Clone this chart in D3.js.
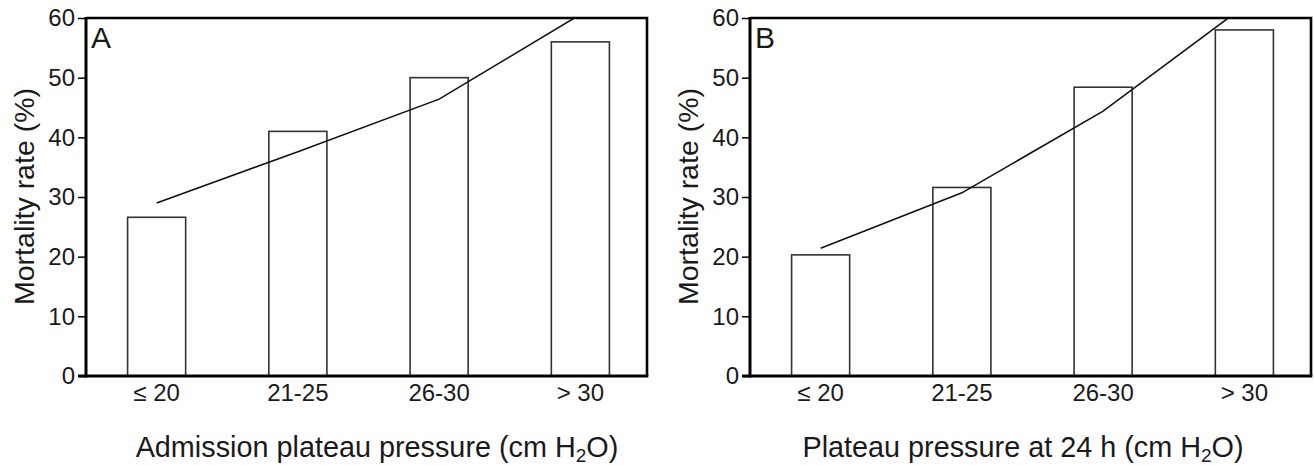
<!DOCTYPE html>
<html>
<head>
<meta charset="utf-8">
<script src="https://cdn.jsdelivr.net/npm/d3@7"></script>
<style>
  body { margin: 0; background: #fff; }
  svg { display: block; }
  text { font-family: "Liberation Sans", Arial, Helvetica, sans-serif; fill: #1a1a1a; }
</style>
</head>
<body>
<svg id="chart" width="1314" height="465"></svg>
<script>
// data
const categories = ["≤ 20", "21-25", "26-30", "> 30"];
const barsA = [26.6, 41.0, 50.0, 56.0];
const lineA = [29.0, 37.6, 46.4, 60.6];
const barsB = [20.3, 31.6, 48.4, 58.0];
const lineB = [21.4, 30.7, 44.4, 62.0];
const yTicks = [0, 10, 20, 30, 40, 50, 60];

const panels = [
  { letter: "A", left: 86, bars: barsA, line: lineA, title: "Admission plateau pressure (cm H", titleX: 377 },
  { letter: "B", left: 750, bars: barsB, line: lineB, title: "Plateau pressure at 24 h (cm H", titleX: 1023 }
];

const svg = d3.select("#chart");
const plotTop = 18, plotBottom = 376, plotW = 561;

const y = d3.scaleLinear().domain([0, 60]).range([plotBottom, plotTop]);

panels.forEach(function (p, pi) {
  const g = svg.append("g");

  const x = d3.scaleBand()
    .domain(categories)
    .range([p.left, p.left + 565])
    .paddingInner(0.589)
    .paddingOuter(0.2945);

  // clip for the trend line
  svg.append("clipPath").attr("id", "clip" + pi)
    .append("rect")
    .attr("x", p.left).attr("y", plotTop)
    .attr("width", plotW).attr("height", plotBottom - plotTop);

  // bars
  g.selectAll(".bar")
    .data(p.bars)
    .enter().append("rect")
    .attr("class", "bar")
    .attr("x", (d, i) => x(categories[i]))
    .attr("y", d => y(d))
    .attr("width", x.bandwidth())
    .attr("height", d => plotBottom - y(d))
    .attr("fill", "none")
    .attr("stroke", "#333")
    .attr("stroke-width", 1.6);

  // line
  const lineGen = d3.line()
    .x((d, i) => x(categories[i]) + x.bandwidth() / 2)
    .y(d => y(d));

  g.append("path")
    .datum(p.line)
    .attr("d", lineGen)
    .attr("clip-path", "url(#clip" + pi + ")")
    .attr("fill", "none")
    .attr("stroke", "#111")
    .attr("stroke-width", 1.6);

  // top and right frame
  g.append("path")
    .attr("d", "M" + p.left + "," + plotTop + "H" + (p.left + plotW) + "V" + plotBottom)
    .attr("fill", "none")
    .attr("stroke", "#000")
    .attr("stroke-width", 2.6);

  // y axis
  const yAxis = g.append("g")
    .attr("transform", "translate(" + p.left + ",0)")
    .call(d3.axisLeft(y).tickValues(yTicks).tickSize(8).tickPadding(3));
  yAxis.attr("font-family", null).attr("font-size", null);
  yAxis.select(".domain").attr("stroke-width", 3).attr("d", "M0," + (plotTop - 1) + "V" + (plotBottom + 1.5));
  yAxis.selectAll(".tick line").attr("stroke-width", 1.5);
  yAxis.selectAll(".tick text")
    .attr("font-size", 24)
    .attr("fill", "#1a1a1a");

  // bottom axis line
  g.append("line")
    .attr("x1", p.left - 8).attr("x2", p.left + plotW + 1.3)
    .attr("y1", plotBottom).attr("y2", plotBottom)
    .attr("stroke", "#000").attr("stroke-width", 3);

  // category labels
  g.selectAll(".cat")
    .data(categories)
    .enter().append("text")
    .attr("class", "cat")
    .attr("x", d => x(d) + x.bandwidth() / 2)
    .attr("y", 401)
    .attr("text-anchor", "middle")
    .attr("font-size", 24)
    .text(d => d);

  // panel letter
  g.append("text")
    .attr("x", p.left + 5)
    .attr("y", plotTop + 30)
    .attr("font-size", 30)
    .text(p.letter);

  // y title
  g.append("text")
    .attr("transform", "translate(" + (p.left - 52) + "," + 196.5 + ") rotate(-90)")
    .attr("text-anchor", "middle")
    .attr("font-size", 28.5)
    .text("Mortality rate (%)");

  // x title with subscript
  const t = g.append("text")
    .attr("x", p.titleX)
    .attr("y", 457)
    .attr("text-anchor", "middle")
    .attr("font-size", 28.8);
  t.append("tspan").text(p.title);
  t.append("tspan").attr("font-size", 19).attr("dy", 5).text("2");
  t.append("tspan").attr("dy", -5).text("O)");
});
</script>
</body>
</html>
